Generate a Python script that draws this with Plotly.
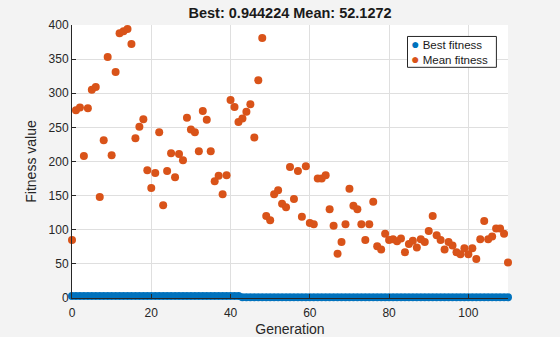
import plotly.graph_objects as go

generations = list(range(0, 111))
best_fitness = [3.0] * 43 + [0.944224] * 68
mean_fitness = [
    85, 275, 279, 208, 278, 305, 309, 148, 231, 353,
    209, 331, 388, 391, 394, 372, 234, 251, 262, 187,
    161, 183, 243, 136, 186, 212, 177, 211, 202, 264,
    247, 243, 215, 274, 261, 215, 171, 179, 152, 180,
    290, 280, 258, 263, 273, 284, 235, 319, 381, 120,
    114, 152, 158, 138, 133, 192, 145, 186, 119, 193,
    110, 108, 175, 175, 180, 130, 106, 65, 82, 108,
    160, 135, 130, 108, 85, 108, 141, 76, 71, 94,
    85, 86, 83, 87, 67, 79, 84, 74, 86, 82,
    98, 120, 92, 85, 71, 82, 77, 67, 64, 73,
    64, 73, 57, 86, 113, 86, 90, 102, 102, 94,
    52.1272,
]
x_ticks = [0, 20, 40, 60, 80, 100]
y_ticks = [0, 50, 100, 150, 200, 250, 300, 350, 400]
series_names = ["Best fitness", "Mean fitness"]
series_colors = ["#0072BD", "#D95319"]

FONT = "Liberation Sans, Arial, sans-serif"

fig = go.Figure()
for name, color, ys in zip(series_names, series_colors, [best_fitness, mean_fitness]):
    fig.add_trace(go.Scatter(
        x=generations, y=ys, mode="markers", name=name,
        marker=dict(color=color, size=8, line=dict(width=0)),
        cliponaxis=False, showlegend=False,
    ))

# MATLAB-style compact legend box
fig.add_shape(type="rect", xref="paper", yref="paper",
              x0=0.7695, x1=0.9734, y0=0.845, y1=0.958,
              line=dict(color="#262626", width=1), fillcolor="white", layer="above")
legend_text = "<br>".join(
    f"<span style='color:{color};font-size:14px'>●</span> {name}"
    for name, color in zip(series_names, series_colors)
)
fig.add_annotation(
    xref="paper", yref="paper", x=0.775, y=0.902,
    xanchor="left", yanchor="middle", align="left", showarrow=False, borderpad=0,
    text=legend_text,
    font=dict(family=FONT, size=11.5, color="#1a1a1a"),
)

fig.update_layout(
    width=560, height=337,
    margin=dict(l=72, r=52, t=25, b=39, autoexpand=False),
    paper_bgcolor="#f3f3f3",
    plot_bgcolor="white",
    font=dict(family=FONT, size=12, color="#262626"),
    title=dict(text="<b>Best: 0.944224 Mean: 52.1272</b>", x=0.518, xanchor="center",
               y=0.961, yanchor="middle", font=dict(size=14.5, color="#1a1a1a")),
    showlegend=False,
)
fig.update_xaxes(
    range=[0, 110], tickvals=x_ticks, showgrid=True, gridcolor="#dfdfdf",
    showline=True, linecolor="#262626", linewidth=1, zeroline=False,
    ticks="inside", ticklen=4, tickcolor="#262626", automargin=False,
    ticklabelstandoff=4,
    title=dict(text="Generation", font=dict(size=14, color="#262626"), standoff=4),
)
fig.update_yaxes(
    range=[0, 400], tickvals=y_ticks, showgrid=True, gridcolor="#dfdfdf",
    showline=True, linecolor="#262626", linewidth=1, zeroline=False,
    ticks="inside", ticklen=4, tickcolor="#262626", automargin=False,
    title=dict(text="Fitness value", font=dict(size=14, color="#262626"), standoff=8),
)

fig.write_html("out.html")
